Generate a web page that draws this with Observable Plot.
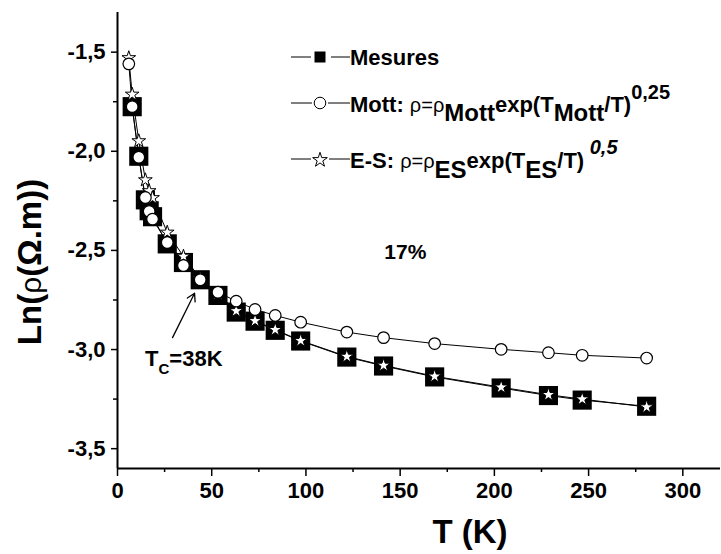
<!DOCTYPE html>
<html>
<head>
<meta charset="utf-8">
<script src="https://cdn.jsdelivr.net/npm/d3@7"></script>
<script src="https://cdn.jsdelivr.net/npm/@observablehq/plot@0.6"></script>
<style>
  html, body { margin: 0; padding: 0; background: white; }
  svg { display: block; }
</style>
</head>
<body>
<div id="chart"></div>
<script>
// ---- data ----
const T_mesures = [7.8, 11.3, 14.8, 16.8, 18.6, 26.4, 35, 43.9, 53.3, 63, 73, 83.7, 97.2, 121.7, 141.2, 168.3, 203.6, 228.7, 246.6, 280.8];
const ln_mesures = [-1.775, -2.025, -2.245, -2.30, -2.33, -2.467, -2.561, -2.648, -2.727, -2.811, -2.857, -2.903, -2.957, -3.038, -3.083, -3.138, -3.194, -3.232, -3.255, -3.286];

const T_fits = [6, 7.8, 11.3, 14.8, 16.8, 18.6, 26.4, 35, 43.9, 53.3, 63, 73, 83.7, 97.2, 121.7, 141.2, 168.3, 203.6, 228.7, 246.6, 280.8];
const ln_mott = [-1.559, -1.775, -2.03, -2.233, -2.303, -2.342, -2.46, -2.576, -2.648, -2.711, -2.756, -2.798, -2.828, -2.862, -2.912, -2.940, -2.970, -2.999, -3.016, -3.029, -3.043];
const ln_es = [-1.529, -1.713, -1.948, -2.145, -2.20, -2.235, -2.409, -2.530, -2.64, -2.72, -2.805, -2.855, -2.90, -2.955, -3.035, -3.08, -3.135, -3.19, -3.228, -3.25, -3.29];

const xMajorTicks = [0, 50, 100, 150, 200, 250, 300];
const xMinorTicks = [25, 75, 125, 175, 225, 275];
const yMajorTicks = [-1.5, -2.0, -2.5, -3.0, -3.5];
const yMinorTicks = [-1.75, -2.25, -2.75, -3.25];

const tcArrow = [{T1: 29.2, v1: -2.94, T2: 40.9, v2: -2.716}];
const tcLabel = {T: 14.9, v: -3.085};
const pctLabel = {T: 153, v: -2.545, text: "17%"};

// ---- build tables ----
const mes = T_mesures.map((t, i) => ({T: t, v: ln_mesures[i]}));
const mott = T_fits.map((t, i) => ({T: t, v: ln_mott[i]}));
const es = T_fits.map((t, i) => ({T: t, v: ln_es[i]}));

const fmt = d => d.toFixed(1).replace(".", ",");
const FONT = "'Liberation Sans', Arial, Helvetica, sans-serif";

const plot = Plot.plot({
  width: 721,
  height: 554,
  marginLeft: 117,
  marginRight: 1,
  marginTop: 12,
  marginBottom: 86,
  x: {domain: [0, 320]},
  y: {domain: [-3.6, -1.3]},
  style: {fontFamily: FONT, fontWeight: "bold", background: "white", color: "black"},
  marks: [
    Plot.axisY(yMinorTicks, {tickSize: 4, tickFormat: () => "", label: null, strokeWidth: 1.5}),
    Plot.axisY(yMajorTicks, {tickSize: 6, tickPadding: 6, tickFormat: fmt, label: null, fontSize: 22, fontWeight: "bold", strokeWidth: 1.5, ariaLabel: "ytick"}),
    Plot.axisX(xMinorTicks, {tickSize: 4, tickFormat: () => "", label: null, strokeWidth: 1.5}),
    Plot.axisX(xMajorTicks, {tickSize: 8, tickPadding: 6, tickFormat: d => String(d), label: null, fontSize: 22, fontWeight: "bold", strokeWidth: 1.5}),
    Plot.ruleX([0], {stroke: "black", strokeWidth: 2}),
    Plot.ruleY([-3.6], {stroke: "black", strokeWidth: 2}),
    Plot.line(mes, {x: "T", y: "v", stroke: "black", strokeWidth: 1}),
    Plot.line(mott, {x: "T", y: "v", stroke: "black", strokeWidth: 1}),
    Plot.line(es, {x: "T", y: "v", stroke: "black", strokeWidth: 1}),
    Plot.dot(mes, {x: "T", y: "v", symbol: "square", r: 10.8, fill: "black", stroke: "none"}),
    Plot.dot(es, {x: "T", y: "v", symbol: "star", r: 4.3, fill: "white", stroke: "black", strokeWidth: 1}),
    Plot.dot(mott, {x: "T", y: "v", symbol: "circle", r: 5.8, fill: "white", stroke: "black", strokeWidth: 1.2}),
    Plot.arrow(tcArrow, {x1: "T1", y1: "v1", x2: "T2", y2: "v2", stroke: "black", strokeWidth: 1.3, headLength: 10})
  ]
});

document.getElementById("chart").appendChild(plot);

const svg = d3.select(plot);
const sx = plot.scale("x"), sy = plot.scale("y");

// widen y tick labels slightly, as in the reference
svg.selectAll("g[aria-label='y-axis tick label'] text").attr("letter-spacing", 2);

// helper to write text with tspans (baseline offsets relative to the main baseline)
function richText(x, y, parts, anchor = "start") {
  const t = svg.append("text")
    .attr("x", x).attr("y", y)
    .attr("text-anchor", anchor)
    .attr("font-family", FONT)
    .attr("fill", "black");
  let cur = 0;
  for (const p of parts) {
    const off = p.off || 0;
    const s = t.append("tspan").text(p.t).attr("dy", off - cur);
    cur = off;
    s.attr("font-size", p.size || 22);
    s.attr("font-weight", p.weight || "bold");
    if (p.italic) s.attr("font-style", "italic");
  }
  return t;
}

// ---- legend ----
const lx0 = 291, lx1 = 350, mx = 320;
const rows = [57, 103, 159];
const star = d3.symbol(d3.symbolStar, 4.6 * 4.6 * Math.PI)();
const g = svg.append("g");
// row 1
g.append("line").attr("x1", lx0).attr("x2", 311).attr("y1", rows[0]).attr("y2", rows[0]).attr("stroke", "black");
g.append("line").attr("x1", 331).attr("x2", lx1).attr("y1", rows[0]).attr("y2", rows[0]).attr("stroke", "black");
g.append("rect").attr("x", mx - 5.5).attr("y", rows[0] - 5.5).attr("width", 11).attr("height", 11).attr("fill", "black");
// row 2
g.append("line").attr("x1", lx0).attr("x2", 312).attr("y1", rows[1]).attr("y2", rows[1]).attr("stroke", "black");
g.append("line").attr("x1", 328).attr("x2", lx1).attr("y1", rows[1]).attr("y2", rows[1]).attr("stroke", "black");
g.append("circle").attr("cx", mx).attr("cy", rows[1]).attr("r", 5.8).attr("fill", "white").attr("stroke", "black");
// row 3
g.append("line").attr("x1", lx0).attr("x2", 311).attr("y1", rows[2]).attr("y2", rows[2]).attr("stroke", "black");
g.append("line").attr("x1", 329).attr("x2", lx1).attr("y1", rows[2]).attr("y2", rows[2]).attr("stroke", "black");
g.append("path").attr("d", star).attr("transform", `translate(${mx},${rows[2] + 1})`).attr("fill", "white").attr("stroke", "black");

richText(350, 65, [{t: "Mesures"}]);
richText(350, 112, [
  {t: "Mott: "},
  {t: "ρ=ρ", weight: "normal", size: 20},
  {t: "Mott", off: 9, size: 24},
  {t: "exp(T"},
  {t: "Mott", off: 9, size: 24},
  {t: "/T)"},
  {t: "0,25", off: -13, size: 20}
]);
richText(350, 168, [
  {t: "E-S: "},
  {t: "ρ=ρ", weight: "normal", size: 20},
  {t: "ES", off: 10, size: 24},
  {t: "exp(T"},
  {t: "ES", off: 10, size: 24},
  {t: "/T)"},
  {t: " 0,5", off: -14, size: 20, italic: true}
]);

// ---- annotations ----
richText(sx.apply(pctLabel.T), sy.apply(pctLabel.v), [{t: pctLabel.text, size: 21}], "middle");
richText(sx.apply(tcLabel.T), sy.apply(tcLabel.v), [
  {t: "T", size: 22},
  {t: "C", off: 8, size: 15},
  {t: "=38K", size: 22}
]);

// ---- axis titles ----
svg.append("text")
  .attr("x", 470).attr("y", 543)
  .attr("text-anchor", "middle")
  .attr("font-family", FONT).attr("font-weight", "bold").attr("font-size", 33)
  .attr("fill", "black")
  .text("T (K)");

const yt = svg.append("text")
  .attr("transform", "translate(41,262) rotate(-90)")
  .attr("text-anchor", "middle")
  .attr("font-family", FONT).attr("font-size", 33).attr("fill", "black");
yt.append("tspan").attr("font-weight", "bold").text("Ln(");
yt.append("tspan").attr("font-weight", "normal").attr("font-size", 30).text("ρ");
yt.append("tspan").attr("font-weight", "bold").text("(Ω.m))");
</script>
</body>
</html>
